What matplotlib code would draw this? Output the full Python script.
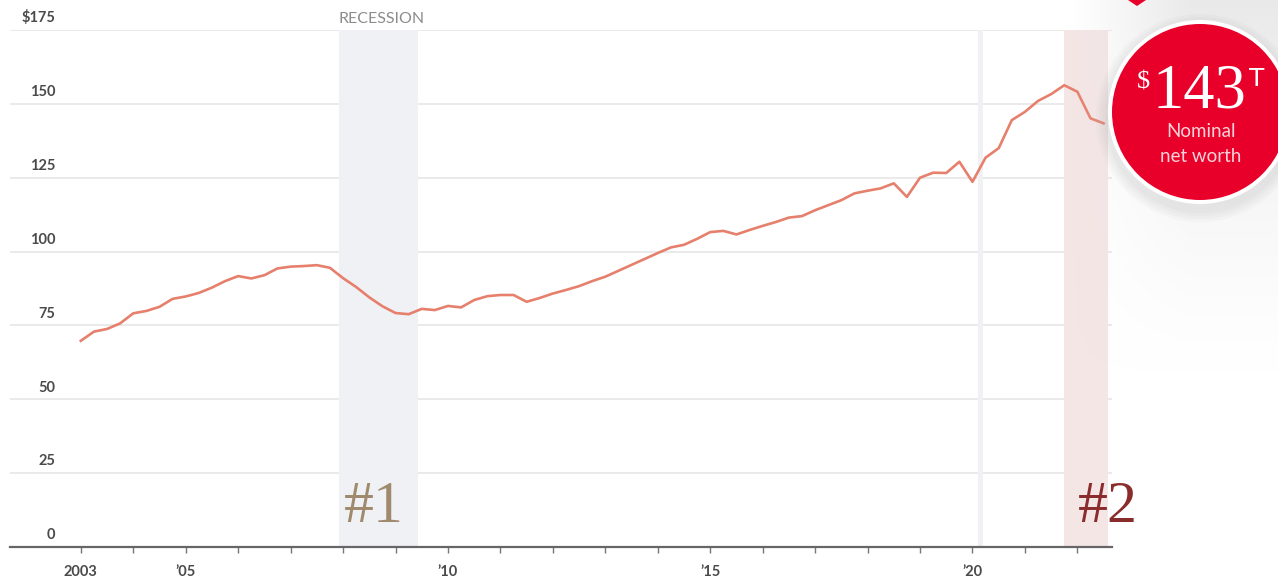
import numpy as np
import pandas as pd
import matplotlib
matplotlib.use('Agg')
import matplotlib.pyplot as plt
from matplotlib.patches import Ellipse, Polygon

# Donnees : valeur nette nominale (billions $), trimestrielle 2003T1 - 2022T3
quarters = pd.period_range('2003Q1', '2022Q3', freq='Q')
net_worth = [69.8, 72.9, 73.8, 75.7, 79.1, 79.9, 81.3, 84.0, 84.8, 86.0,
             87.8, 90.0, 91.7, 90.9, 92.0, 94.3, 94.9, 95.1, 95.4, 94.5,
             91.0, 88.0, 84.5, 81.5, 79.2, 78.8, 80.6, 80.2, 81.6, 81.1,
             83.6, 84.9, 85.3, 85.3, 83.0, 84.3, 85.8, 87.0, 88.3, 90.0,
             91.5, 93.5, 95.5, 97.5, 99.5, 101.4, 102.3, 104.3, 106.6, 107.0,
             105.8, 107.3, 108.7, 110.0, 111.5, 112.0, 114.0, 115.7, 117.4, 119.7,
             120.6, 121.4, 123.1, 118.5, 125.0, 126.7, 126.6, 130.4, 123.6, 131.8,
             135.0, 144.5, 147.3, 151.0, 153.3, 156.3, 154.1, 145.1, 143.4]

recessions = [(2007.92, 2009.42), (2020.1, 2020.2)]
highlight = (2021.75, 2022.58)

y_ticks = [0, 25, 50, 75, 100, 125, 150, 175]
y_labels = ['0', '25', '50', '75', '100', '125', '150', '$175']
x_ticks = list(range(2003, 2023))
x_labels = {2003: '2003', 2005: '\u201905', 2010: '\u201910', 2015: '\u201915', 2020: '\u201920'}

W, H = 1278, 583
fig = plt.figure(figsize=(W / 100, H / 100), dpi=100)
fig.patch.set_facecolor('white')

def fx(x):
    return x / W

def fy(y):
    return 1 - y / H

# fond gris degrade a droite (ombre)
yy, xx = np.mgrid[0:H, 0:W]
shade = np.clip((xx - 1070) / 120, 0, 1) * np.clip(1 - yy / 380, 0, 1) ** 1.3
img = np.ones((H, W, 4))
img[..., :3] = 0.88
img[..., 3] = shade * 0.7
fig.figimage(img, xo=0, yo=0, origin='upper', zorder=0)

ax = fig.add_axes([fx(10), fy(547), fx(1112) - fx(10), fy(30) - fy(547)])
ax.set_facecolor('none')

x = quarters.year + (quarters.quarter - 1) / 4

# bandes de recession
for (a, b) in recessions:
    ax.axvspan(a, b, color='#f0f1f5', zorder=1, lw=0)
ax.axvspan(highlight[0], highlight[1], color='#f5e6e6', zorder=1, lw=0)

# grille horizontale
for v in y_ticks[1:]:
    ax.axhline(v, color='#e8e8e8', lw=1.3, zorder=0.5)

ax.plot(x, net_worth, color='#e6806c', lw=1.9, zorder=3, solid_joinstyle='round')

ax.set_xlim(2001.65, 2022.66)
ax.set_ylim(0, 175)

for s in ['top', 'right', 'left']:
    ax.spines[s].set_visible(False)
ax.spines['bottom'].set_color('#666666')
ax.spines['bottom'].set_linewidth(1.6)

ax.set_yticks([])
ax.set_xticks(x_ticks)
ax.set_xticklabels([x_labels.get(t, '') for t in x_ticks], fontsize=10.5,
                   color='#4a4a4a', family='Lato', fontweight='bold')
ax.tick_params(axis='x', direction='out', length=4, width=1, color='#777777', pad=9)

for v, lab in zip(y_ticks, y_labels):
    ax.text(0.041, v + 1.6, lab, transform=ax.get_yaxis_transform(), ha='right',
            va='bottom', fontsize=10.5, color='#4a4a4a', family='Lato',
            fontweight='bold')

ax.text(recessions[0][0], 178.6, 'RECESSION', ha='left', va='center', fontsize=11.5,
        color='#8c8c8c', family='Lato', clip_on=False)

# etiquettes #1 et #2
fig.text(fx(344), fy(522), '#1', fontsize=43, color='#a08a6e',
         family='Liberation Serif', ha='left', va='baseline')
fig.text(fx(1078), fy(522), '#2', fontsize=43, color='#8b2c2c',
         family='Liberation Serif', ha='left', va='baseline')

# pastille rouge
cx, cy, r = 1200, 112, 92
for k, a in enumerate([0.05, 0.05, 0.05, 0.05]):
    rr = r + 12 - 3 * k
    fig.add_artist(Ellipse((fx(cx), fy(cy + 6)), 2 * rr / W, 2 * rr / H,
                           transform=fig.transFigure, color='#9a9a9a', alpha=a, lw=0))
fig.add_artist(Ellipse((fx(cx), fy(cy)), 2 * r / W, 2 * r / H,
                       transform=fig.transFigure, color='white', lw=0))
fig.add_artist(Ellipse((fx(cx), fy(cy)), 2 * (r - 4) / W, 2 * (r - 4) / H,
                       transform=fig.transFigure, color='#e8002a', lw=0))
fig.add_artist(Polygon([[fx(1128), fy(0)], [fx(1146), fy(0)], [fx(1137), fy(6)]],
                       closed=True, transform=fig.transFigure, color='#e8002a', lw=0))

fig.text(fx(1153), fy(108), '143', fontsize=45, color='white',
         family='Liberation Serif', ha='left', va='baseline')
fig.text(fx(1137), fy(88), '$', fontsize=19, color='white',
         family='Liberation Serif', ha='left', va='baseline')
fig.text(fx(1249), fy(86), 'T', fontsize=18, color='white',
         family='DejaVu Sans', ha='left', va='baseline')
fig.text(fx(1201), fy(132), 'Nominal', fontsize=13.5, color='#f8d4d9',
         family='Lato', ha='center', va='center')
fig.text(fx(1201), fy(156), 'net worth', fontsize=13.5, color='#f8d4d9',
         family='Lato', ha='center', va='center')

fig.savefig('out.png', dpi=100)
